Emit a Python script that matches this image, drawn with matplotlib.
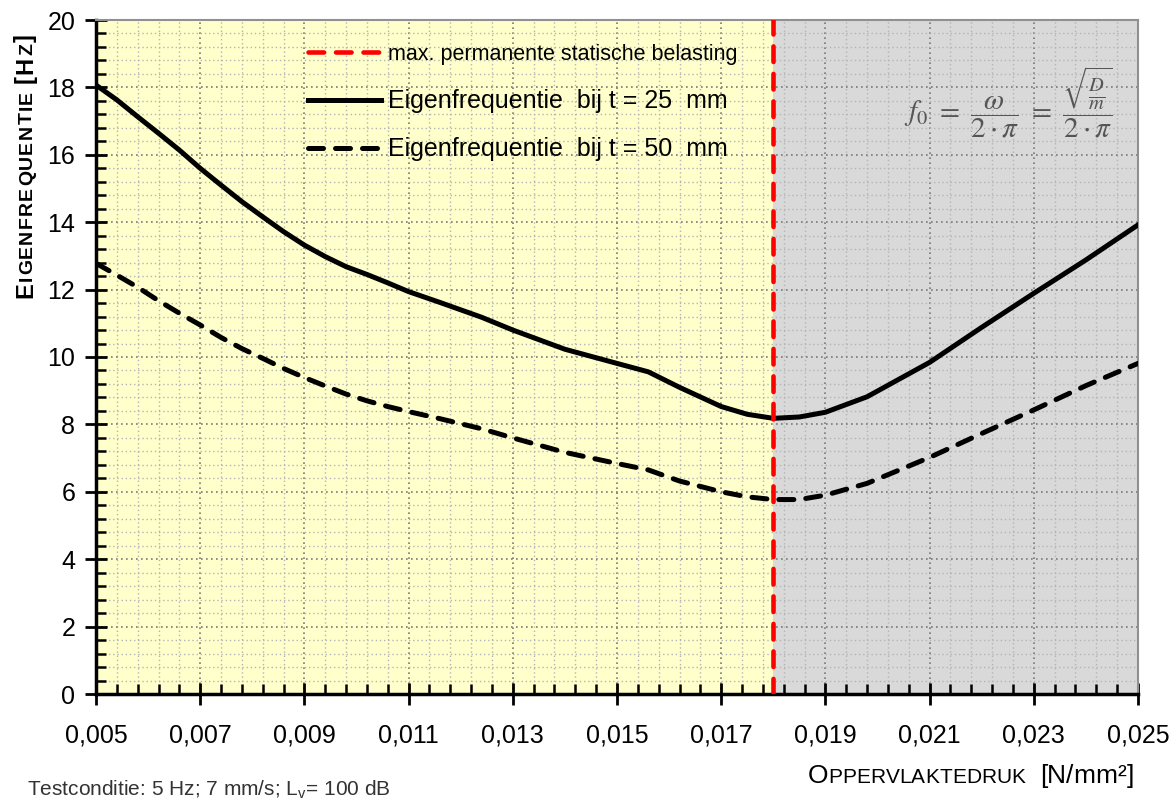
import matplotlib
matplotlib.use("Agg")
import matplotlib.pyplot as plt
import numpy as np
from matplotlib.ticker import FixedLocator, MultipleLocator, FuncFormatter

plt.rcParams['font.family'] = ['Liberation Sans', 'DejaVu Sans']

# Data
druk = [0.005, 0.0054, 0.0058, 0.0062, 0.0066, 0.007, 0.0074, 0.0078, 0.0082,
        0.0086, 0.009, 0.0094, 0.0098, 0.0102, 0.0106, 0.011, 0.0116, 0.0124,
        0.013, 0.014, 0.015, 0.0156, 0.0162, 0.017, 0.0175, 0.018, 0.0185,
        0.019, 0.0198, 0.021, 0.022, 0.023, 0.024, 0.025]
f_25mm = [18.07, 17.63, 17.13, 16.64, 16.14, 15.60, 15.10, 14.61, 14.16,
          13.72, 13.32, 12.98, 12.68, 12.45, 12.20, 11.94, 11.62, 11.18,
          10.80, 10.23, 9.81, 9.56, 9.10, 8.53, 8.30, 8.18, 8.22,
          8.36, 8.82, 9.84, 10.88, 11.89, 12.88, 13.92]
f_50mm = [12.78, 12.43, 12.07, 11.67, 11.30, 10.95, 10.58, 10.25, 9.96,
          9.66, 9.39, 9.14, 8.90, 8.70, 8.53, 8.38, 8.17, 7.87,
          7.60, 7.17, 6.84, 6.65, 6.32, 6.00, 5.85, 5.77, 5.77,
          5.90, 6.25, 7.02, 7.73, 8.43, 9.15, 9.81]
max_belasting = 0.018
x_ticks = [0.005, 0.007, 0.009, 0.011, 0.013, 0.015, 0.017, 0.019, 0.021, 0.023, 0.025]

fig = plt.figure(figsize=(11.72, 7.99), dpi=100)
ax = fig.add_axes([96/1172, 1 - 694/799, (1138 - 96)/1172, (694 - 20)/799])

ax.set_xlim(0.005, 0.025)
ax.set_ylim(0, 20)

# achtergrond: toelaatbaar (geel) / niet toelaatbaar (grijs)
ax.axvspan(0.005, max_belasting, color='#ffffcc', zorder=0, lw=0)
ax.axvspan(max_belasting, 0.025, color='#d9d9d9', zorder=0, lw=0)

ax.xaxis.set_major_locator(FixedLocator(x_ticks))
ax.xaxis.set_minor_locator(FixedLocator(np.arange(0.005, 0.02501, 0.0004)))
ax.yaxis.set_major_locator(MultipleLocator(2))
ax.yaxis.set_minor_locator(MultipleLocator(0.4))
ax.xaxis.set_major_formatter(FuncFormatter(lambda v, p: f"{v:.3f}".replace('.', ',')))
ax.grid(True, which='minor', color='#b4b4b4', linestyle=(0, (1, 2)), lw=1.0, zorder=1)
ax.grid(True, which='major', color='#7a7a7a', linestyle=(0, (1, 2)), lw=1.2, zorder=1)
ax.set_axisbelow(True)

ax.tick_params(which='major', direction='inout', length=16, width=2, labelsize=18)
ax.tick_params(axis='x', which='major', pad=13)
ax.tick_params(axis='y', which='major', pad=7)
ax.tick_params(which='minor', direction='in', length=7, width=1.8)
for s in ['left', 'bottom']:
    ax.spines[s].set_linewidth(2.5)
for s in ['top', 'right']:
    ax.spines[s].set_color('#909090')
    ax.spines[s].set_linewidth(1.5)

ax.axvline(max_belasting, color='red', lw=3.3, linestyle=(0, (3.4, 2.6)),
           dash_capstyle='round', zorder=4,
           label='max. permanente statische belasting')
ax.plot(druk, f_25mm, color='black', lw=3.6, zorder=3, solid_joinstyle='round',
        label='Eigenfrequentie  bij t = 25  mm')
ax.plot(druk, f_50mm, color='black', lw=3.6, linestyle=(0, (3.0, 2.4)),
        dash_capstyle='round', zorder=3,
        label='Eigenfrequentie  bij t = 50  mm')

leg = ax.legend(loc='upper left', bbox_to_anchor=(0.2035, 0.966), frameon=False,
                fontsize=18, handlelength=2.9, handletextpad=0.28,
                labelspacing=0.96, borderpad=0, borderaxespad=0)
leg.get_texts()[0].set_fontsize(15.5)

ax.text(0.876, (694 - 120) / 674,
        r'$f_0\ =\ \dfrac{\omega}{2\cdot\pi}\ =\ \dfrac{\sqrt{\frac{D}{m}}}{2\cdot\pi}$',
        transform=ax.transAxes, ha='center', va='baseline', fontsize=21,
        color='#555555', math_fontfamily='stix')

# labels in klein kapitaal, letter voor letter geplaatst
renderer = fig.canvas.get_renderer()


def smallcaps(parts, x, y, rotation, weight, tracking=0.0):
    for txt, size in parts:
        for ch in txt:
            t = fig.text(x, y, ch, fontsize=size, fontweight=weight, rotation=rotation,
                         rotation_mode='anchor', ha='left', va='baseline',
                         transform=None)
            bb = t.get_window_extent(renderer)
            if ch == ' ':
                step = size * 0.278 * 100 / 72
            else:
                step = (bb.y1 - bb.y0) if rotation == 90 else (bb.x1 - bb.x0)
            if rotation == 90:
                y += step + tracking
            else:
                x += step + tracking


smallcaps([('E', 17), ('IGENFREQUENTIE ', 14), ('[H', 17), ('Z', 14), (']', 17)],
          32, 799 - 298, 90, 'bold', tracking=1.3)
smallcaps([('O', 19), ('PPERVLAKTEDRUK', 15), ('  [N/mm²]', 19)],
          808, 799 - 783, 0, 'normal')

fig.text(27 / 1172, 1 - 795 / 799, r'Testconditie: 5 Hz; 7 mm/s; L$_\mathregular{v}$= 100 dB',
         fontsize=15, color='#333333', ha='left', va='baseline')

fig.savefig("out.png", dpi=100)
